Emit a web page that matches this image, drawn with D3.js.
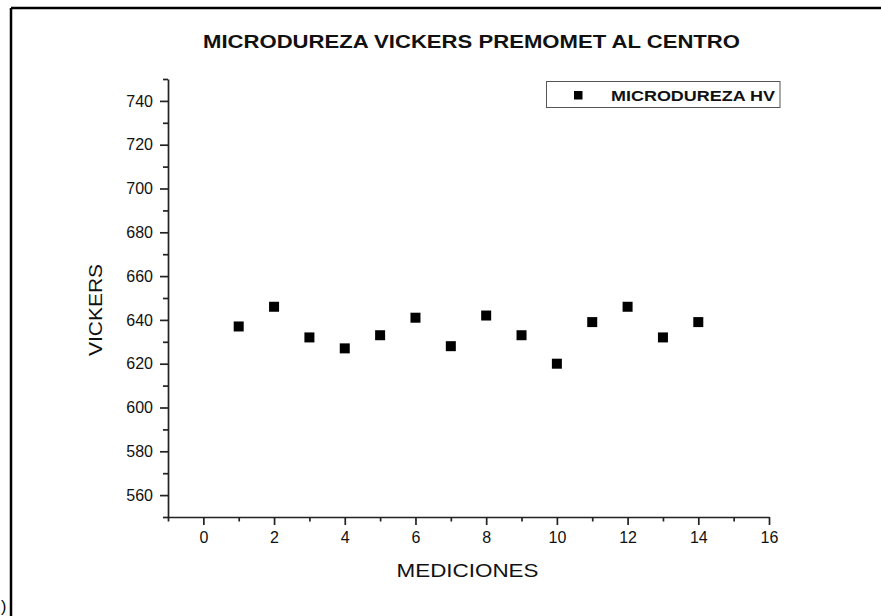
<!DOCTYPE html>
<html>
<head>
<meta charset="utf-8">
<script src="https://cdn.jsdelivr.net/npm/d3@7"></script>
<style>
  html, body { margin: 0; padding: 0; background: #fff; }
  svg { display: block; font-family: Arial, "Liberation Sans", sans-serif; }
</style>
</head>
<body>
<svg id="chart" width="881" height="616"></svg>
<script>
// ---- data ----
const mediciones = [1, 2, 3, 4, 5, 6, 7, 8, 9, 10, 11, 12, 13, 14];
const microdureza = [637, 646, 632, 627, 633, 641, 628, 642, 633, 620, 639, 646, 632, 639];
const xTicks = [0, 2, 4, 6, 8, 10, 12, 14, 16];
const xMinorTicks = [-1, 1, 3, 5, 7, 9, 11, 13, 15];
const yTicks = [560, 580, 600, 620, 640, 660, 680, 700, 720, 740];
const yMinorTicks = [550, 570, 590, 610, 630, 650, 670, 690, 710, 730, 750];
const titleText = "MICRODUREZA VICKERS PREMOMET AL CENTRO";
const xLabel = "MEDICIONES";
const yLabel = "VICKERS";
const legendLabel = "MICRODUREZA HV";

const svg = d3.select("#chart");

// frame (top and left lines)
svg.append("line").attr("x1", 11).attr("x2", 881).attr("y1", 8).attr("y2", 8)
  .attr("stroke", "#000").attr("stroke-width", 2.5);
svg.append("line").attr("x1", 11).attr("x2", 11).attr("y1", 8).attr("y2", 616)
  .attr("stroke", "#000").attr("stroke-width", 2.5);
svg.append("text").attr("x", 1).attr("y", 612).attr("font-size", 16).text(")");

const x = d3.scaleLinear().domain([-1, 16]).range([168, 769]);
const y = d3.scaleLinear().domain([550, 750]).range([517, 79]);

// x axis
const gx = svg.append("g").attr("transform", `translate(0,${y(550)})`);
gx.call(d3.axisBottom(x).tickValues(xMinorTicks).tickSize(4.5).tickFormat(""))
  .call(g => g.select(".domain").remove());
gx.append("g").call(d3.axisBottom(x).tickValues(xTicks).tickSize(8).tickPadding(7).tickSizeOuter(0))
  .call(g => g.selectAll("text").attr("font-size", 16).attr("fill", "#111").attr("font-family", "Arial, 'Liberation Sans', sans-serif"));
gx.selectAll(".domain, line").attr("stroke", "#222").attr("stroke-width", 1.7);

// y axis
const gy = svg.append("g").attr("transform", `translate(${x(-1)},0)`);
gy.call(d3.axisLeft(y).tickValues(yMinorTicks).tickSize(5).tickFormat(""))
  .call(g => g.select(".domain").remove());
gy.append("g").call(d3.axisLeft(y).tickValues(yTicks).tickSize(8).tickPadding(7).tickSizeOuter(0))
  .call(g => g.selectAll("text").attr("font-size", 16).attr("fill", "#111").attr("font-family", "Arial, 'Liberation Sans', sans-serif"));
gy.selectAll(".domain, line").attr("stroke", "#222").attr("stroke-width", 1.7);

// points
const s = 10;
svg.append("g").selectAll("rect").data(mediciones).join("rect")
  .attr("x", (d) => x(d) - s / 2)
  .attr("y", (d, i) => y(microdureza[i]) - s / 2)
  .attr("width", s).attr("height", s).attr("fill", "#000");

// title
svg.append("text").attr("x", 471.5).attr("y", 48).attr("text-anchor", "middle")
  .attr("font-size", 18.5).attr("font-weight", "bold").attr("fill", "#111")
  .attr("textLength", 537).attr("lengthAdjust", "spacingAndGlyphs").text(titleText);

// axis labels
svg.append("text").attr("x", 467.5).attr("y", 577).attr("text-anchor", "middle")
  .attr("font-size", 18.5).attr("fill", "#111")
  .attr("textLength", 142).attr("lengthAdjust", "spacingAndGlyphs").text(xLabel);
svg.append("text").attr("transform", "translate(102,310) rotate(-90)").attr("text-anchor", "middle")
  .attr("font-size", 18.5).attr("fill", "#111")
  .attr("textLength", 92).attr("lengthAdjust", "spacingAndGlyphs").text(yLabel);

// legend
svg.append("rect").attr("x", 546.5).attr("y", 81.5).attr("width", 233.5).attr("height", 26)
  .attr("fill", "#fff").attr("stroke", "#555").attr("stroke-width", 1);
svg.append("rect").attr("x", 574).attr("y", 91).attr("width", 8.5).attr("height", 8.5).attr("fill", "#000");
svg.append("text").attr("x", 611).attr("y", 100.5).attr("font-size", 15).attr("font-weight", "bold")
  .attr("fill", "#111").attr("textLength", 164).attr("lengthAdjust", "spacingAndGlyphs").text(legendLabel);
</script>
</body>
</html>
